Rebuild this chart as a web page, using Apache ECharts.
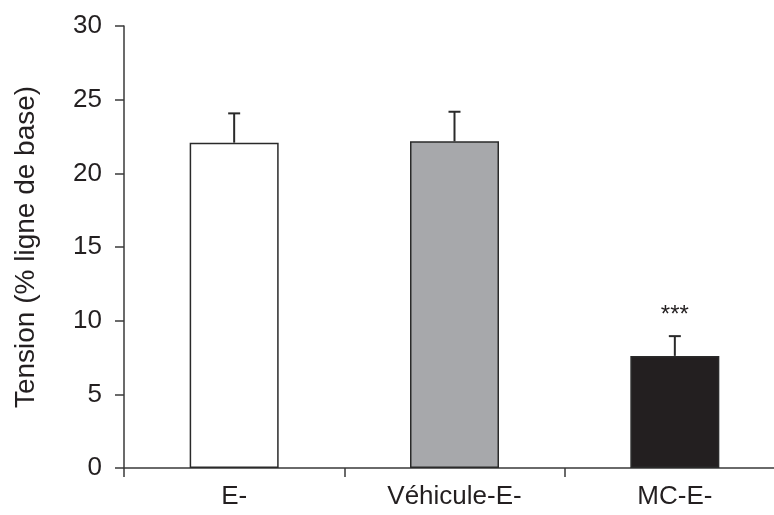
<!DOCTYPE html>
<html>
<head>
<meta charset="utf-8">
<script src="https://cdn.jsdelivr.net/npm/echarts@6/dist/echarts.min.js"></script>
<style>html,body{margin:0;padding:0;background:#fff;overflow:hidden}#c{width:800px;height:515px}</style>
</head>
<body>
<div id="c"></div>
<script>
var categories = ['E-', 'Véhicule-E-', 'MC-E-'];
var means = [22.08, 22.17, 7.61];
var errTops = [24.07, 24.18, 8.95];
var stars = ['', '', '***'];
var barColors = ['#ffffff', '#a7a8ab', '#231f20'];
var yTicks = [0, 5, 10, 15, 20, 25, 30];

var chart = echarts.init(document.getElementById('c'));
var font = 'Liberation Sans, Arial, sans-serif';
chart.setOption({
  animation: false,
  backgroundColor: '#fff',
  grid: {left: 124, top: 26, width: 661, height: 442},
  xAxis: {
    type: 'category',
    data: categories,
    axisLine: {lineStyle: {color: '#3a3a3a', width: 1.5}},
    axisTick: {show: true, length: 9, lineStyle: {color: '#3a3a3a', width: 1.5}},
    axisLabel: {color: '#231f20', fontSize: 26, fontFamily: font, margin: 16}
  },
  yAxis: {
    type: 'value',
    min: yTicks[0],
    max: yTicks[yTicks.length - 1],
    interval: 5,
    name: 'Tension (% ligne de base)',
    nameLocation: 'middle',
    nameGap: 84,
    nameTextStyle: {color: '#231f20', fontSize: 28, fontFamily: font},
    splitLine: {show: false},
    axisLine: {show: true, lineStyle: {color: '#3a3a3a', width: 1.5}},
    axisTick: {show: true, length: 9, lineStyle: {color: '#3a3a3a', width: 1.5}},
    axisLabel: {color: '#231f20', fontSize: 26, fontFamily: font, margin: 22}
  },
  series: [
    {
      type: 'bar',
      barWidth: 89,
      data: means.map(function (v, i) {
        return {value: v, itemStyle: {color: barColors[i], borderColor: '#2a2a2a', borderWidth: 1.5}};
      }),
      z: 2
    },
    {
      type: 'custom',
      z: 3,
      data: means.map(function (v, i) { return [i, v, errTops[i]]; }),
      renderItem: function (params, api) {
        var i = api.value(0);
        var lo = api.coord([i, api.value(1)]);
        var hi = api.coord([i, api.value(2)]);
        var half = 6;
        var style = {stroke: '#2a2a2a', lineWidth: 2};
        var children = [
          {type: 'line', shape: {x1: lo[0], y1: lo[1], x2: hi[0], y2: hi[1]}, style: style},
          {type: 'line', shape: {x1: hi[0] - half, y1: hi[1], x2: hi[0] + half, y2: hi[1]}, style: style}
        ];
        if (stars[i]) {
          children.push({type: 'text', style: {text: stars[i], x: hi[0], y: hi[1] - 21, align: 'center', verticalAlign: 'middle', fill: '#231f20', font: '24px ' + font}});
        }
        return {type: 'group', children: children};
      }
    }
  ]
});
</script>
</body>
</html>
